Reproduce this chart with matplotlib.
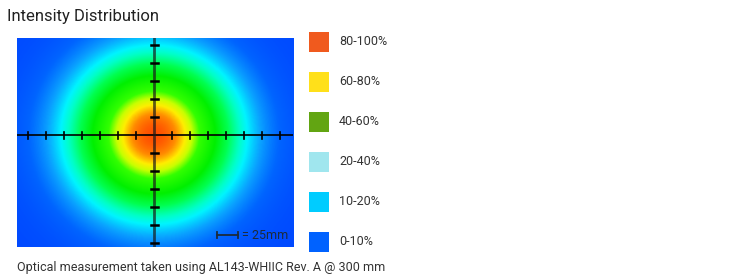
import matplotlib

matplotlib.use("Agg")
import matplotlib.pyplot as plt
import numpy as np
from matplotlib.colors import LinearSegmentedColormap

plt.rcParams["font.family"] = ["Roboto", "DejaVu Sans"]

TITLE = "Intensity Distribution"
CAPTION = "Optical measurement taken using AL143-WHIIC Rev. A @ 300 mm"
SCALE_LABEL = "= 25mm"

# legend bands, top to bottom
band_labels = ["80-100%", "60-80%", "40-60%", "20-40%", "10-20%", "0-10%"]
band_colors = ["#f05a1e", "#ffe01a", "#62a512", "#a0e6ee", "#00ccff", "#0062ff"]

field_x = (-190.0, 194.0)
field_y = (-155.5, 135.5)
beam_sigma_x = 78.0
beam_sigma_y = 75.0

# crosshair ticks (mm)
x_ticks = [-175, -150, -125, -100, -75, -50, -25, 25, 50, 75, 100, 125, 150, 175]
y_ticks = [-150, -125, -100, -75, -50, -25, 25, 50, 75, 100, 125]

TEXT = "#333333"

heat = LinearSegmentedColormap.from_list(
    "beam",
    [
        (0.00, "#0048ff"),
        (0.08, "#0064ff"),
        (0.16, "#0aa0ff"),
        (0.25, "#00f4ff"),
        (0.31, "#00ffc8"),
        (0.42, "#00ff50"),
        (0.55, "#00f000"),
        (0.72, "#33ff00"),
        (0.80, "#c8ff00"),
        (0.86, "#ffee00"),
        (0.93, "#ff8c00"),
        (1.00, "#ff5000"),
    ],
)


def intensity_field(nx: int = 400, ny: int = 300) -> np.ndarray:
    xs = np.linspace(field_x[0], field_x[1], nx)
    ys = np.linspace(field_y[0], field_y[1], ny)
    gx, gy = np.meshgrid(xs, ys)
    return np.exp(-0.5 * ((gx / beam_sigma_x) ** 2 + (gy / beam_sigma_y) ** 2))


fig = plt.figure(figsize=(7.5, 2.8), dpi=100)
fig.patch.set_facecolor("white")

ax = fig.add_axes([0.0223, 0.1168, 0.3689, 0.7486])
ax.imshow(
    intensity_field(),
    cmap=heat,
    vmin=0,
    vmax=1,
    origin="lower",
    extent=(field_x[0], field_x[1], field_y[0], field_y[1]),
    aspect="auto",
    interpolation="bilinear",
)
ax.set_xlim(*field_x)
ax.set_ylim(*field_y)
ax.axis("off")

# crosshair
ax.axhline(0, color="black", linewidth=1.2, zorder=3)
ax.axvline(0, color="#1a1a1a", linewidth=2.0, alpha=0.7, zorder=3)
for t in x_ticks:
    ax.plot([t, t], [-4.8, 4.8], color="black", linewidth=1.2, zorder=4)
for t in y_ticks:
    ax.plot([-4.0, 5.5], [t, t], color="black", linewidth=1.8, zorder=4)

# scale bar
bar_y = -138.5
ax.plot([87.5, 117.5], [bar_y, bar_y], color="#1c2b3a", linewidth=1.3, zorder=4)
for bx in (87.5, 117.5):
    ax.plot([bx, bx], [bar_y - 4.5, bar_y + 4.5], color="#1c2b3a", linewidth=1.3, zorder=4)
ax.text(122, bar_y, SCALE_LABEL, color="#1c2b3a", fontsize=9, va="center", ha="left", zorder=4)

fig.text(7 / 750, 1 - 17 / 280, TITLE, fontsize=12, color="#222222", va="center", ha="left")
fig.text(17 / 750, 1 - 267 / 280, CAPTION, fontsize=9, color=TEXT, va="center", ha="left")

# legend
lg = fig.add_axes([0, 0, 1, 1], facecolor="none")
lg.set_xlim(0, 750)
lg.set_ylim(280, 0)
lg.axis("off")
for i, (label, color) in enumerate(zip(band_labels, band_colors)):
    cy = 41.7 + i * 40.0
    lg.add_patch(plt.Rectangle((309, cy - 10), 20, 20, facecolor=color, edgecolor="none"))
    lg.text(339, cy, label, fontsize=9, color=TEXT, va="center", ha="left")

fig.savefig("out.png", dpi=100, facecolor="white")
plt.close(fig)
